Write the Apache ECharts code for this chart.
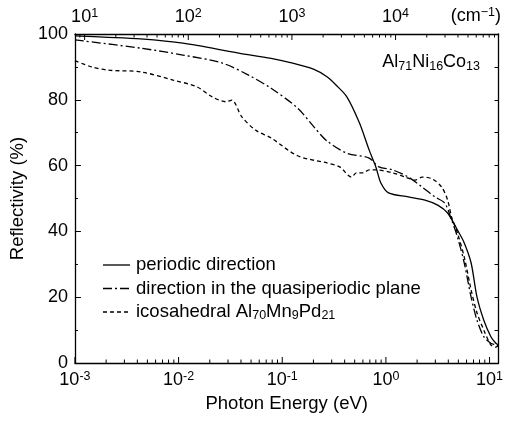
<!DOCTYPE html>
<html><head><meta charset="utf-8">
<script src="https://cdn.jsdelivr.net/npm/echarts@6/dist/echarts.min.js"></script>
<style>html,body{margin:0;padding:0;background:#fff}#c{width:506px;height:424px}</style>
</head><body><div id="c"></div>
<script>
// ---- data (photon energy in eV, reflectivity in %) ----
const seriesNames = ['periodic direction', 'direction in the quasiperiodic plane', 'icosahedral Al70Mn9Pd21'];
const seriesLabels = ['periodic direction', 'direction in the quasiperiodic plane', 'icosahedral Al{sub|70}Mn{sub|9}Pd{sub|21}'];
const periodicE = [0.001, 0.0021, 0.0043, 0.011, 0.038, 0.078, 0.12, 0.2, 0.27, 0.33, 0.42, 0.555, 0.69, 0.8, 0.895, 1.06, 1.65, 2.38, 3.16, 3.94, 4.9, 5.7, 6.64, 7.57, 8.8, 10.3, 11.5, 12.2];
const periodicR = [99.4, 99.0, 98.5, 97.2, 94.2, 92.6, 91.3, 89.3, 87.0, 84.5, 80.9, 73.0, 64.7, 59.6, 54.7, 51.7, 50.5, 49.5, 48.0, 45.6, 40.4, 36.5, 30.4, 20.0, 13.0, 8.0, 6.0, 5.5];
const quasiE = [0.001, 0.0043, 0.011, 0.0262, 0.0473, 0.078, 0.1405, 0.203, 0.27, 0.418, 0.689, 0.857, 1.16, 1.65, 2.23, 2.96, 3.69, 4.3, 4.9, 5.7, 6.64, 7.57, 8.8, 10.3, 11.5, 12.2];
const quasiR = [98.2, 95.7, 93.6, 91.2, 87.5, 83.5, 77.5, 71.7, 67.5, 63.8, 62.3, 59.6, 58.7, 56.5, 53.5, 50.5, 48.6, 43.5, 38.3, 30.4, 20.0, 13.0, 8.0, 6.0, 5.5, 5.0];
const icoE = [0.001, 0.00145, 0.0021, 0.0043, 0.00883, 0.0149, 0.0211, 0.0286, 0.0326, 0.0406, 0.0551, 0.078, 0.1405, 0.27, 0.358, 0.466, 0.519, 0.604, 0.689, 0.802, 1.16, 1.54, 1.92, 2.23, 2.78, 3.45, 3.94, 4.3, 4.9, 5.7, 6.64, 7.57, 8.8, 10.3, 11.5, 12.2];
const icoR = [91.9, 90.0, 89.0, 88.5, 86.0, 84.0, 80.9, 79.4, 79.9, 74.9, 70.8, 68.4, 63.0, 60.8, 59.6, 56.5, 57.8, 57.8, 58.7, 58.7, 57.8, 56.5, 55.6, 56.5, 56.0, 53.5, 49.5, 44.4, 39.5, 32.2, 22.2, 15.2, 10.0, 5.5, 4.8, 5.5];

// axis ranges
const xMinE = 0.001, xMaxE = 12.2;
const EV_TO_CM = 8065.54;
const yMin = 0, yMax = 100;

const FONT = "'Liberation Sans', Arial, sans-serif";
const DASHES = ['solid', [9, 3, 2, 3], [4, 3]];

function zip(a, b) { return a.map((v, i) => [v, b[i]]); }

// x-axis tick marks (major decades + minor 2..9) for bottom (eV) and top (cm^-1)
const tickData = [];
for (let k = -3; k <= 1; k++) for (let m = 1; m <= 9; m++) {
  const v = m * Math.pow(10, k);
  if (v >= xMinE * 0.999 && v <= xMaxE) tickData.push([v, 0, m === 1 ? 1 : 0]);
}
for (let k = 0; k <= 4; k++) for (let m = 1; m <= 9; m++) {
  const cm = m * Math.pow(10, k);
  const e = cm / EV_TO_CM;
  if (e >= xMinE && e <= xMaxE) tickData.push([e, 1, m === 1 ? 1 : 0]);
}

function powLabel(v) {
  const k = Math.round(Math.log10(v));
  if (Math.abs(v / Math.pow(10, k) - 1) > 1e-6) return '';
  return '10{sup|' + k + '}';
}
const supRich = { sup: { fontSize: 12.5, fontFamily: FONT, color: '#000', verticalAlign: 'top', lineHeight: 13 } };
const subRichG = { sub: { fontSize: 12.5, fontFamily: FONT, fill: '#000', verticalAlign: 'bottom', lineHeight: 12 } };

// manual legend (line samples + labels)
const legendTop = 265, legendStep = 23.5;
const legendGraphics = [];
seriesLabels.forEach((lab, i) => {
  const y = legendTop + i * legendStep;
  legendGraphics.push({ type: 'line', shape: { x1: 103, y1: y, x2: 130, y2: y },
    style: { stroke: '#000', lineWidth: 1.3, lineDash: DASHES[i] === 'solid' ? null : DASHES[i] } });
  legendGraphics.push({ type: 'text', x: 136, y: y,
    style: { text: lab, font: '18.5px ' + FONT, fill: '#000', verticalAlign: 'middle', lineHeight: 21, rich: subRichG } });
});

const chart = echarts.init(document.getElementById('c'), null, { renderer: 'canvas' });
const lineBase = { type: 'line', showSymbol: false, symbol: 'none', smooth: 0.3, xAxisIndex: 0, yAxisIndex: 0 };
chart.setOption({
  backgroundColor: '#fff',
  animation: false,
  grid: { left: 73, right: 4, top: 34, bottom: 61, containLabel: false },
  xAxis: [
    {
      type: 'log', logBase: 10, min: xMinE, max: xMaxE, position: 'bottom',
      name: 'Photon Energy (eV)', nameLocation: 'middle', nameGap: 30,
      nameTextStyle: { fontSize: 18.5, fontFamily: FONT, color: '#000' },
      axisLine: { show: true, onZero: false, lineStyle: { color: '#000', width: 1.3 } },
      axisTick: { show: false }, minorTick: { show: false },
      splitLine: { show: false },
      axisLabel: { margin: 7, formatter: powLabel, fontSize: 18, fontFamily: FONT, color: '#000', lineHeight: 20, rich: supRich, showMaxLabel: false }
    },
    {
      type: 'log', logBase: 10, min: xMinE * EV_TO_CM, max: xMaxE * EV_TO_CM, position: 'top',
      axisLine: { show: true, onZero: false, lineStyle: { color: '#000', width: 1.3 } },
      axisTick: { show: false }, splitLine: { show: false },
      axisLabel: { margin: 7, formatter: powLabel, fontSize: 18, fontFamily: FONT, color: '#000', lineHeight: 20, rich: supRich, showMinLabel: false, showMaxLabel: false }
    }
  ],
  yAxis: [
    {
      type: 'value', min: yMin, max: yMax, interval: 20, position: 'left',
      name: 'Reflectivity (%)', nameLocation: 'middle', nameGap: 47,
      nameTextStyle: { fontSize: 18.5, fontFamily: FONT, color: '#000' },
      axisLine: { show: true, onZero: false, lineStyle: { color: '#000', width: 1.3 } },
      axisTick: { show: true, inside: true, length: 6, lineStyle: { color: '#000' } },
      minorTick: { show: true, splitNumber: 2, length: 3, lineStyle: { color: '#000' } },
      splitLine: { show: false },
      axisLabel: { margin: 7, fontSize: 18, fontFamily: FONT, color: '#000' }
    },
    {
      type: 'value', min: yMin, max: yMax, interval: 10, position: 'right',
      axisLine: { show: true, onZero: false, lineStyle: { color: '#000', width: 1.3 } },
      axisTick: { show: true, inside: true, length: 4, lineStyle: { color: '#000' } },
      splitLine: { show: false }, axisLabel: { show: false }
    }
  ],
  graphic: [
    {
      type: 'text', right: 5, top: 6,
      style: { text: '(cm{sup|−1})', font: '18px ' + FONT, fill: '#000', lineHeight: 20,
        rich: { sup: { fontSize: 12.5, fontFamily: FONT, fill: '#000', verticalAlign: 'top', lineHeight: 13 } } }
    },
    {
      type: 'text', right: 26, top: 52,
      style: { text: 'Al{sub|71}Ni{sub|16}Co{sub|13}', font: '18px ' + FONT, fill: '#000', lineHeight: 21, rich: subRichG }
    }
  ].concat(legendGraphics),
  series: [
    Object.assign({}, lineBase, { name: seriesNames[0], data: zip(periodicE, periodicR),
      lineStyle: { color: '#000', width: 1.3, type: DASHES[0] } }),
    Object.assign({}, lineBase, { name: seriesNames[1], data: zip(quasiE, quasiR),
      lineStyle: { color: '#000', width: 1.3, type: DASHES[1] } }),
    Object.assign({}, lineBase, { name: seriesNames[2], data: zip(icoE, icoR),
      lineStyle: { color: '#000', width: 1.3, type: DASHES[2] } }),
    {
      type: 'custom', name: 'ticks', silent: true, xAxisIndex: 0, yAxisIndex: 0, clip: false,
      data: tickData,
      encode: { x: 0, y: 1 },
      renderItem: function (params, api) {
        const e = api.value(0), top = api.value(1) === 1, major = api.value(2) === 1;
        const p = api.coord([e, top ? yMax : yMin]);
        const len = major ? 6 : 3.5;
        return { type: 'line', shape: { x1: p[0], y1: p[1], x2: p[0], y2: p[1] + (top ? len : -len) },
          style: { stroke: '#000', lineWidth: 1 } };
      }
    }
  ]
});
</script></body></html>
